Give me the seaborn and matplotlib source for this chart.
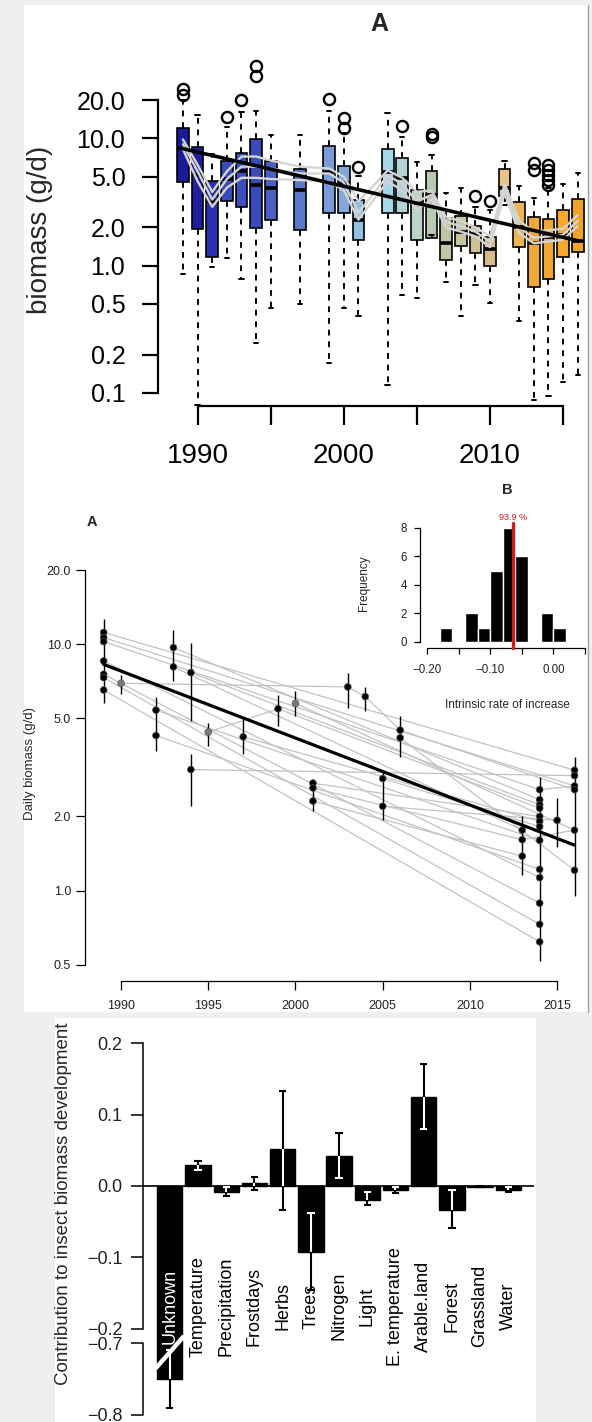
import numpy as np
import pandas as pd
import matplotlib
matplotlib.use("Agg")
import matplotlib.pyplot as plt
from matplotlib.patches import Rectangle
from matplotlib.lines import Line2D
from matplotlib.ticker import NullLocator
import seaborn as sns

sns.set_theme(style="ticks")
plt.rcParams["font.family"] = ["Liberation Sans", "DejaVu Sans"]

W, H = 592, 1422

# ---------------- top panel: yearly boxplots ----------------
box_years = [1989, 1990, 1991, 1992, 1993, 1994, 1995, 1997, 1999, 2000, 2001, 2003, 2004,
             2005, 2006, 2007, 2008, 2009, 2010, 2011, 2012, 2013, 2014, 2015, 2016]
box_lo = [0.86, 0.08, 0.98, 1.15, 0.79, 0.245, 0.465, 0.5, 0.173, 0.465, 0.40, 0.116, 0.59,
          0.56, 1.74, 0.75, 0.40, 0.71, 0.51, 3.0, 0.365, 0.088, 0.094, 0.123, 0.138]
box_q1 = [4.54, 1.94, 1.16, 3.2, 2.9, 1.98, 2.3, 1.9, 2.6, 2.6, 1.59, 2.6, 2.6,
          1.59, 1.65, 1.11, 1.42, 1.25, 1.0, 3.5, 1.4, 0.68, 0.78, 1.18, 1.29]
box_med = [8.4, 5.2, 3.2, 4.8, 5.5, 4.3, 4.07, 3.9, 5.45, 4.5, 2.3, 5.45, 4.9,
           3.1, 3.6, 1.52, 1.85, 1.78, 1.35, 4.1, 2.0, 1.5, 1.69, 1.75, 1.55]
box_q3 = [12.1, 8.56, 4.6, 6.7, 7.7, 9.9, 6.6, 5.8, 8.7, 6.1, 3.3, 8.2, 7.0,
          3.9, 5.55, 2.36, 2.47, 2.05, 1.68, 5.7, 3.18, 2.4, 2.32, 2.74, 3.33]
box_hi = [20.0, 15.3, 7.5, 12.3, 16.2, 16.5, 10.6, 10.6, 16.5, 11.0, 5.1, 15.8, 10.3,
          6.5, 7.4, 3.7, 4.05, 2.9, 2.75, 6.7, 4.2, 3.4, 4.1, 4.4, 5.3]
box_fliers = [[22.0, 24.5], [], [], [14.8], [20.0], [31.0, 37.0], [], [], [20.3], [12.0, 14.4],
              [6.0], [], [12.6], [], [10.3, 10.8], [], [], [3.5], [3.2], [], [],
              [5.6, 6.4], [4.3, 4.7, 5.2, 5.6, 6.2], [], []]
box_colors = ["#1b1b9a", "#1f1fa0", "#2a2fae", "#3a49bb", "#3d4fbd", "#3a4ab8", "#4a5fc0",
              "#5a79c8", "#7a9ad8", "#84a6da", "#94c0e2", "#a9d7ea", "#b3d2d4", "#bcd3c8",
              "#b9c9b1", "#bfc6a6", "#c8c6a0", "#cfc197", "#d4ba8c", "#e6c488", "#eeb456",
              "#f0a83a", "#f0a630", "#f4a82c", "#f0a226"]
grey_mid = [9.0, 5.5, 3.3, 4.8, 6.0, 6.0, 5.8, 5.3, 5.3, 4.5, 2.6, 5.1, 4.4,
            3.2, 3.6, 2.2, 2.05, 1.85, 1.55, 4.0, 2.0, 1.65, 1.7, 1.75, 2.25]
grey_upper = [9.8, 6.2, 3.8, 5.5, 7.2, 7.2, 6.7, 6.0, 5.8, 5.0, 3.2, 5.6, 4.9,
              3.8, 3.9, 2.4, 2.25, 2.0, 1.7, 4.4, 2.25, 1.85, 1.9, 1.95, 2.5]
grey_lower = [8.2, 4.6, 2.9, 4.1, 4.9, 4.9, 4.8, 4.7, 4.6, 3.9, 2.3, 4.6, 3.9,
              2.75, 3.3, 2.0, 1.85, 1.7, 1.4, 3.7, 1.8, 1.5, 1.55, 1.6, 2.05]
trend_a_years = [1989, 2016]
trend_a_vals = [8.3, 1.57]
a_yticks = [0.1, 0.2, 0.5, 1, 2, 5, 10, 20]
a_ylabels = ["0.1", "0.2", "0.5", "1.0", "2.0", "5.0", "10.0", "20.0"]
a_xticks = [1990, 1995, 2000, 2005, 2010, 2015]
a_xlabels = ["1990", "", "2000", "", "2010", ""]

# ---------------- middle panel: site trajectories ----------------
pt_years = [1989] * 7 + [1990, 1992, 1992, 1993, 1993, 1994, 1994, 1995, 1997, 1999, 2000,
            2001, 2001, 2001, 2003, 2004, 2005, 2005, 2006, 2006, 2013, 2013, 2013] \
           + [2014] * 13 + [2015] + [2016] * 6
pt_values = [11.16, 10.64, 10.25, 8.55, 7.55, 7.32, 6.52,
             6.94, 5.40, 4.26, 9.69, 8.09, 7.67, 3.10, 4.40, 4.21, 5.47, 5.75,
             2.73, 2.61, 2.31, 6.71, 6.13, 2.85, 2.20, 4.48, 4.17, 1.76, 1.61, 1.38,
             2.57, 2.34, 2.23, 2.16, 2.0, 1.91, 1.82, 1.60, 1.22, 1.13, 0.89, 0.73, 0.62,
             1.93,
             3.08, 2.93, 2.66, 2.57, 1.76, 1.21]
pt_shade = ["dark"] * 7 + ["light", "dark", "dark", "dark", "dark", "dark", "dark", "light",
            "dark", "dark", "light"] + ["dark"] * 32
err_years = [1989, 1990, 1992, 1993, 1994, 1994, 1995, 1997, 1999, 2000, 2001, 2003, 2004,
             2005, 2006, 2013, 2014, 2015, 2016]
err_lo = [5.8, 6.3, 3.7, 7.1, 4.9, 2.2, 3.85, 3.57, 4.65, 5.1, 2.1, 5.5, 5.35,
          1.94, 3.5, 1.16, 0.52, 1.5, 0.95]
err_hi = [12.6, 7.5, 6.1, 11.4, 10.1, 3.6, 4.8, 4.95, 6.2, 6.45, 2.83, 7.65, 6.7,
          3.1, 5.1, 2.0, 2.9, 2.37, 3.5]
site_lines = [
    [(1989, 11.16), (2016, 3.08)],
    [(1989, 10.64), (2016, 2.66)],
    [(1989, 10.25), (2014, 2.57)],
    [(1989, 8.55), (2014, 1.13)],
    [(1989, 7.55), (2014, 0.89)],
    [(1989, 7.32), (2014, 0.73)],
    [(1989, 6.52), (2014, 0.62)],
    [(1990, 6.94), (2003, 6.71), (2004, 6.13), (2006, 4.48), (2016, 2.57)],
    [(1992, 5.40), (2014, 1.60)],
    [(1992, 4.26), (2014, 1.22)],
    [(1993, 9.69), (2014, 2.34)],
    [(1993, 8.09), (2013, 1.76)],
    [(1994, 7.67), (2014, 2.23)],
    [(1994, 3.10), (2016, 2.93)],
    [(1995, 4.40), (1999, 5.47), (2014, 2.16)],
    [(1997, 4.21), (2014, 1.91)],
    [(2000, 5.75), (2016, 1.76)],
    [(2001, 2.73), (2014, 2.0)],
    [(2001, 2.61), (2013, 1.61)],
    [(2001, 2.31), (2013, 1.38)],
    [(2005, 2.85), (2014, 1.82)],
    [(2005, 2.20), (2015, 1.93)],
    [(2006, 4.17), (2016, 1.21)],
    [(2013, 1.61), (2016, 1.76)],
    [(2014, 2.57), (2016, 2.66)],
]
trend_b_years = [1989, 2016]
trend_b_vals = [8.28, 1.53]
b_yticks = [0.5, 1, 2, 5, 10, 20]
b_ylabels = ["0.5", "1.0", "2.0", "5.0", "10.0", "20.0"]
b_xticks = [1990, 1995, 2000, 2005, 2010, 2015]

# inset histogram
hist_edges = [-0.18, -0.16, -0.14, -0.12, -0.10, -0.08, -0.06, -0.04, -0.02, 0.00, 0.02]
hist_mid = [-0.17, -0.15, -0.13, -0.11, -0.09, -0.07, -0.05, -0.03, -0.01, 0.01]
hist_counts = [1, 0, 2, 1, 5, 8, 6, 0, 2, 1]
mean_rate = -0.064
inset_xticks = [-0.20, -0.15, -0.10, -0.05, 0.00, 0.05]
inset_xlabels = ["\u22120.20", "", "\u22120.10", "", "0.00", ""]

# ---------------- bottom panel: contributions ----------------
factor_names = ["Unknown", "Temperature", "Precipitation", "Frostdays", "Herbs", "Trees",
                "Nitrogen", "Light", "E. temperature", "Arable.land", "Forest",
                "Grassland", "Water"]
factor_contrib = [-0.75, 0.029, -0.008, 0.004, 0.052, -0.093, 0.042, -0.019, -0.006,
                  0.125, -0.033, -0.001, -0.005]
factor_lo = [-0.79, 0.022, -0.014, -0.005, -0.033, -0.145, 0.011, -0.027, -0.010,
             0.080, -0.059, -0.002, -0.009]
factor_hi = [-0.71, 0.035, -0.002, 0.013, 0.133, -0.038, 0.074, -0.008, -0.002,
             0.170, -0.006, 0.000, -0.001]
c_yticks = [0.2, 0.1, 0.0, -0.1, -0.2, -0.7, -0.8]
c_ylabels = ["0.2", "0.1", "0.0", "\u22120.1", "\u22120.2", "\u22120.7", "\u22120.8"]


def brk_fwd(v):
    return np.interp(v, [-2.0, -0.7, -0.2, 2.0], [-1.52, -0.22, -0.2, 2.0])


def brk_inv(t):
    return np.interp(t, [-1.52, -0.22, -0.2, 2.0], [-2.0, -0.7, -0.2, 2.0])


fig = plt.figure(figsize=(W / 100, H / 100), dpi=100)
fig.patch.set_facecolor("#efefef")


def add_ax(left, top, right, bottom):
    ax = fig.add_axes([left / W, 1 - bottom / H, (right - left) / W, (bottom - top) / H])
    ax.patch.set_visible(False)
    return ax


def ftext(x, y, s, **kw):
    fig.text(x / W, 1 - y / H, s, **kw)


def white_box(left, top, right, bottom):
    fig.add_artist(Rectangle((left / W, 1 - bottom / H), (right - left) / W, (bottom - top) / H,
                             transform=fig.transFigure, facecolor="white",
                             edgecolor="none", zorder=-5))


white_box(24, 5, 588, 1012)
white_box(55, 1018, 536, 1422)
fig.add_artist(Line2D([588 / W, 588 / W], [1 - 5 / H, 1 - 1012 / H], transform=fig.transFigure,
                      color="#a0a0a0", lw=1, zorder=-4))

# ===== top panel =====
ax1 = add_ax(158, 55, 590, 406)
ax1.set_yscale("log")
stats = [dict(whislo=box_lo[i], q1=box_q1[i], med=box_med[i], q3=box_q3[i],
              whishi=box_hi[i], fliers=box_fliers[i]) for i in range(len(box_years))]
bp = ax1.bxp(stats, positions=box_years, widths=0.8, capwidths=0.3, patch_artist=True,
             manage_ticks=False,
             boxprops=dict(edgecolor="black", linewidth=1.2),
             medianprops=dict(color="black", linewidth=2.6),
             whiskerprops=dict(color="black", linewidth=1.4, linestyle=(0, (3, 3))),
             capprops=dict(color="black", linewidth=1.4),
             flierprops=dict(marker="o", markerfacecolor="none", markeredgecolor="black",
                             markersize=8, markeredgewidth=1.7))
for patch, c in zip(bp["boxes"], box_colors):
    patch.set_facecolor(c)
    patch.set_zorder(2)

for band in (grey_upper, grey_mid, grey_lower):
    sns.lineplot(x=box_years, y=band, color="#d4d4d4", lw=1.7, ax=ax1, zorder=3)
sns.lineplot(x=trend_a_years, y=trend_a_vals, color="black", lw=2.6, ax=ax1, zorder=5)

ax1.set_xlim(1987.29, 2016.84)
ax1.set_ylim(0.079, 45.2)
sns.despine(ax=ax1)
ax1.spines["left"].set_bounds(0.1, 20)
ax1.spines["bottom"].set_bounds(1990, 2015)
for s in ("left", "bottom"):
    ax1.spines[s].set_color("black")
    ax1.spines[s].set_linewidth(1.6)
ax1.set_yticks(a_yticks)
ax1.set_yticklabels(a_ylabels)
ax1.yaxis.set_minor_locator(NullLocator())
ax1.set_xticks(a_xticks)
ax1.set_xticklabels(a_xlabels)
ax1.tick_params(axis="y", length=11.5, width=1.6, pad=12, labelsize=18, color="black",
                labelcolor="black")
ax1.tick_params(axis="x", length=13.5, width=1.6, pad=13, labelsize=20, color="black",
                labelcolor="black")
ax1.set_xlabel("")
ax1.set_ylabel("")
ftext(379, 24, "A", fontsize=18, fontweight="bold", ha="center", va="center")
ftext(40, 230, "biomass (g/d)", fontsize=20, rotation=90, ha="center", va="center")

# ===== middle panel =====
ax2 = add_ax(85, 560, 585, 970)
ax2.set_yscale("log")
rows = [(k, yr, val) for k, line in enumerate(site_lines) for yr, val in line]
site_df = pd.DataFrame(rows, columns=["site", "year", "value"])
sns.lineplot(data=site_df, x="year", y="value", units="site", estimator=None,
             color="#c2c2c2", lw=0.9, ax=ax2, zorder=1)
ax2.vlines(err_years, err_lo, err_hi, color="black", lw=1.0, zorder=3)
pts = pd.DataFrame({"year": pt_years, "value": pt_values, "shade": pt_shade})
sns.scatterplot(data=pts, x="year", y="value", hue="shade",
                palette={"dark": "black", "light": "#7a7a7a"}, s=24,
                edgecolor="#555555", linewidth=0.5, legend=False, ax=ax2, zorder=4)
sns.lineplot(x=trend_b_years, y=trend_b_vals, color="black", lw=2.3, ax=ax2, zorder=5)

ax2.set_xlim(1987.93, 2016.6)
ax2.set_ylim(0.4766, 21.96)
sns.despine(ax=ax2)
ax2.spines["left"].set_bounds(0.5, 20)
ax2.spines["bottom"].set_bounds(1990, 2015)
ax2.spines["bottom"].set_position(("outward", 7.9))
for s in ("left", "bottom"):
    ax2.spines[s].set_color("black")
    ax2.spines[s].set_linewidth(0.9)
ax2.set_yticks(b_yticks)
ax2.set_yticklabels(b_ylabels)
ax2.yaxis.set_minor_locator(NullLocator())
ax2.set_xticks(b_xticks)
ax2.set_xticklabels([str(y) for y in b_xticks])
ax2.tick_params(axis="both", length=6.5, width=0.9, labelsize=9, color="black",
                labelcolor="#222222")
ax2.tick_params(axis="x", pad=7)
ax2.tick_params(axis="y", pad=3.5)
ax2.set_xlabel("")
ax2.set_ylabel("")
ftext(92, 522, "A", fontsize=10.5, fontweight="bold", ha="center", va="center")
ftext(30, 763, "Daily biomass (g/d)", fontsize=9.5, rotation=90, ha="center", va="center")

# inset
ax3 = add_ax(420, 523, 590, 642)
sns.histplot(x=hist_mid, weights=hist_counts, bins=hist_edges, color="black",
             edgecolor="white", linewidth=1.0, alpha=1, ax=ax3)
ax3.axvline(mean_rate, ymin=-0.05, ymax=1, color="#d41a1a", lw=2.4, clip_on=False, zorder=5)
ax3.set_xlim(-0.2111, 0.0579)
ax3.set_ylim(0, 8.35)
sns.despine(ax=ax3)
ax3.spines["left"].set_bounds(0, 8)
ax3.spines["bottom"].set_bounds(-0.2, 0.05)
ax3.spines["bottom"].set_position(("outward", 4.3))
for s in ("left", "bottom"):
    ax3.spines[s].set_color("black")
    ax3.spines[s].set_linewidth(0.9)
ax3.set_yticks([0, 2, 4, 6, 8])
ax3.set_xticks(inset_xticks)
ax3.set_xticklabels(inset_xlabels)
ax3.tick_params(axis="both", length=4.5, width=0.9, labelsize=8.3, color="black",
                labelcolor="#222222")
ax3.tick_params(axis="x", pad=7)
ax3.tick_params(axis="y", pad=5)
ax3.set_xlabel("")
ax3.set_ylabel("")
ftext(507, 490, "B", fontsize=10.5, fontweight="bold", ha="center", va="center")
ftext(513, 517, "93.9 %", fontsize=6.5, color="#d41a1a", ha="center", va="center")
ftext(364, 583, "Frequency", fontsize=8.5, rotation=90, ha="center", va="center")
ftext(507, 705, "Intrinsic rate of increase", fontsize=8.5, ha="center", va="center")

# ===== bottom panel =====
ax4 = add_ax(143, 1035, 534, 1420)
sns.barplot(x=factor_names, y=factor_contrib, color="black", saturation=1, width=0.9,
            edgecolor="black", errorbar=None, ax=ax4)
ax4.set_yscale("function", functions=(brk_fwd, brk_inv))
ax4.set_ylim(-0.8073, 0.2112)
ax4.set_xlim(-0.95, 12.91)
ax4.axhline(0, color="black", lw=1.2, zorder=2.5)

for i, (v, lo, hi) in enumerate(zip(factor_contrib, factor_lo, factor_hi)):
    ax4.vlines(i, lo, hi, color="black", lw=1.5, zorder=3)
    bar_lo, bar_hi = min(v, 0), max(v, 0)
    in_lo, in_hi = max(lo, bar_lo), min(hi, bar_hi)
    if in_hi > in_lo:
        ax4.vlines(i, in_lo, in_hi, color="white", lw=1.5, zorder=4)
    for end in (lo, hi):
        cap_col = "white" if bar_lo < end < bar_hi else "black"
        ax4.hlines(end, i - 0.13, i + 0.13, color=cap_col, lw=1.5, zorder=4)
    ax4.text(i, -0.168, factor_names[i], rotation=90, ha="center", va="center",
             fontsize=13, color="white" if v < -0.2 else "black", zorder=6)

# axis break across the long bar
ax4.plot([-0.5, 0.5], [-0.735, -0.45], color="white", lw=3.2, zorder=5,
         solid_capstyle="butt")

for s in ("top", "right", "bottom"):
    ax4.spines[s].set_visible(False)
ax4.spines["left"].set_bounds(-0.2, 0.2)
ax4.spines["left"].set_color("black")
ax4.spines["left"].set_linewidth(1.1)
ax4.plot([0, 0], [-0.7, -0.8], transform=ax4.get_yaxis_transform(), color="black",
         lw=1.1, clip_on=False)
ax4.set_yticks(c_yticks)
ax4.set_yticklabels(c_ylabels)
ax4.yaxis.set_minor_locator(NullLocator())
ax4.set_xticks([])
ax4.tick_params(axis="y", length=9, width=1.1, pad=6, labelsize=13, color="black",
                labelcolor="#222222")
ax4.set_xlabel("")
ax4.set_ylabel("")
ftext(64, 1204, "Contribution to insect biomass development", fontsize=13.5, rotation=90,
      ha="center", va="center")

fig.savefig("out.png", dpi=100, facecolor=fig.get_facecolor())
